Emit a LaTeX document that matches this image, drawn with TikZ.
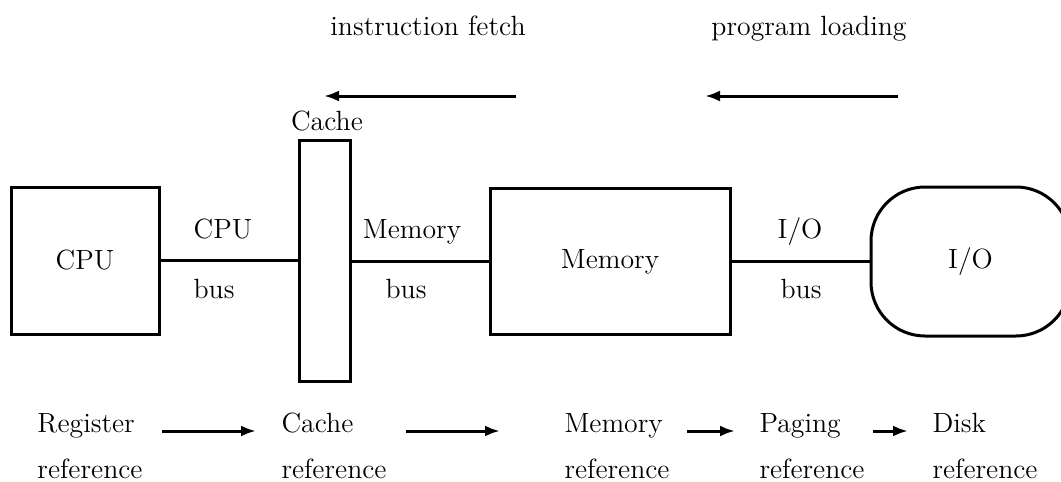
\documentclass[tikz,border=0pt]{standalone}
\usetikzlibrary{arrows.meta}
\begin{document}
\begin{tikzpicture}[x=0.5pt,y=-0.5pt,
  line width=1.5pt,
  lbl/.style={inner sep=0pt,font=\fontsize{13.9}{23}\selectfont},
  unit/.style={draw,inner sep=0pt,font=\fontsize{13.9}{23}\selectfont},
  tip/.style={-{Latex[length=7.5pt,width=5.5pt]}}]
\useasboundingbox (0,0) rectangle (1061,482);
\clip (0,0) rectangle (1061,482);

% hardware units
\node[unit,minimum width=74pt,minimum height=73.5pt] (cpu) at (85,260.5) {CPU};
\node[unit,minimum width=25.5pt,minimum height=120.5pt] (cache) at (325,260.5) {};
\node[unit,minimum width=120pt,minimum height=73pt] (mem) at (610,261.5) {Memory};
\node[unit,rounded corners=27pt,minimum width=99.5pt,minimum height=74.5pt] (io) at (970.5,261.5) {I/O};

% buses
\draw (cpu.east) -- (cache.west |- cpu.east);
\draw (cache.east |- mem.west) -- (mem.west);
\draw (mem.east) -- (io.west);

% bus labels
\node[lbl,anchor=base] (cachelbl) at (327,130) {Cache};
\node[lbl,anchor=base] (cpubusA) at (223,238) {CPU};
\node[lbl,anchor=base] (cpubusB) at (214,298) {bus};
\node[lbl,anchor=base] (membusA) at (412,238) {Memory};
\node[lbl,anchor=base] (membusB) at (406,298) {bus};
\node[lbl,anchor=base] (iobusA) at (800,238) {I/O};
\node[lbl,anchor=base] (iobusB) at (801,298) {bus};

% transfer directions
\node[lbl,anchor=base] (fetch) at (428,35) {instruction fetch};
\node[lbl,anchor=base] (load) at (809,35) {program loading};
\coordinate (fetchA) at (516,96);
\coordinate (fetchB) at (324,96);
\coordinate (loadA) at (898,96);
\coordinate (loadB) at (705,96);
\draw[tip] (fetchA) -- (fetchB);
\draw[tip] (loadA) -- (loadB);

% reference hierarchy
\node[lbl,anchor=base west] (reg) at (36,432) {Register};
\node[lbl,anchor=base west] (regB) at (36,478) {reference};
\node[lbl,anchor=base west] (cref) at (280,432) {Cache};
\node[lbl,anchor=base west] (crefB) at (280,478) {reference};
\node[lbl,anchor=base west] (mref) at (563,432) {Memory};
\node[lbl,anchor=base west] (mrefB) at (563,478) {reference};
\node[lbl,anchor=base west] (pref) at (758,432) {Paging};
\node[lbl,anchor=base west] (prefB) at (758,478) {reference};
\node[lbl,anchor=base west] (dref) at (931,432) {Disk};
\node[lbl,anchor=base west] (drefB) at (931,478) {reference};

\coordinate (a1) at (162,431); \coordinate (b1) at (256,431);
\coordinate (a2) at (406,431); \coordinate (b2) at (500,431);
\coordinate (a3) at (687,431); \coordinate (b3) at (735,431);
\coordinate (a4) at (873,431); \coordinate (b4) at (908,431);
\draw[tip] (a1) -- (b1);
\draw[tip] (a2) -- (b2);
\draw[tip] (a3) -- (b3);
\draw[tip] (a4) -- (b4);
\end{tikzpicture}
\end{document}
